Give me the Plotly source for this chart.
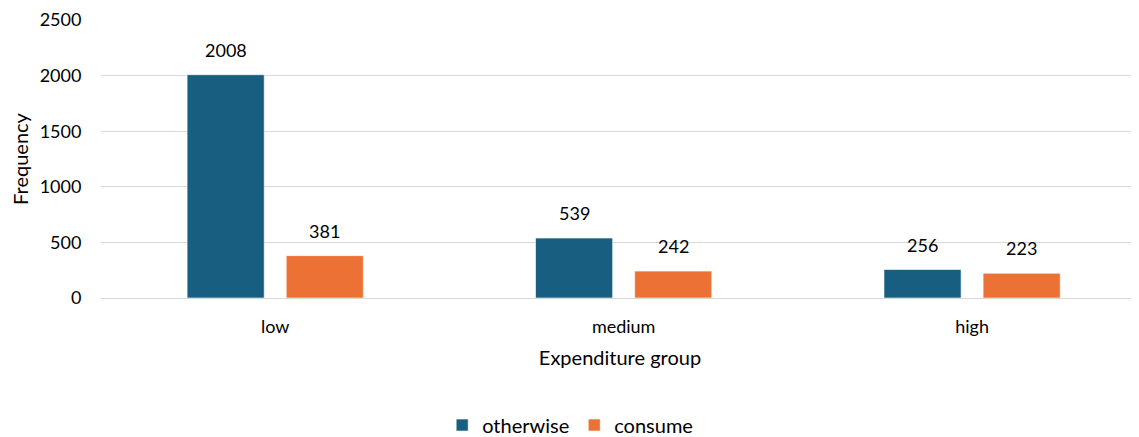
import plotly.graph_objects as go

categories = ["low", "medium", "high"]
otherwise = [2008, 539, 256]
consume = [381, 242, 223]
series_names = ["otherwise", "consume"]
colors = ["#175E80", "#EB7234"]

FONT = "Lato, Open Sans, sans-serif"
FS = 18
FT = 20

fig = go.Figure()
for name, vals, col in zip(series_names, [otherwise, consume], colors):
    fig.add_trace(go.Bar(
        x=categories, y=vals, name=name,
        marker=dict(color=col, line=dict(color="rgba(255,255,255,0.6)", width=1)),
    ))

# data labels
offsets = [-49.5, 49.5]
for vals, off in zip([otherwise, consume], offsets):
    for c, v in zip(categories, vals):
        fig.add_annotation(x=c, y=v, text=str(v), showarrow=False,
                           xshift=off, yshift=12, yanchor="bottom",
                           font=dict(family=FONT, size=FS, color="#000000"))

fig.update_layout(
    width=1131, height=429,
    margin=dict(l=93, r=0, t=12, b=139, autoexpand=False),
    plot_bgcolor="white", paper_bgcolor="white",
    barmode="group", bargap=0.431, bargroupgap=0.222,
    font=dict(family=FONT, size=FS, color="#000000"),
    showlegend=True,
    legend=dict(orientation="h", x=0.452, xanchor="center", y=-0.457, yanchor="middle",
                font=dict(size=FT), traceorder="normal"),
    xaxis=dict(title=dict(text="Expenditure group", font=dict(size=FT), standoff=15),
               range=[-0.5, 2.479],
               showgrid=False, ticks="outside", ticklen=12, tickcolor="rgba(0,0,0,0)",
               showline=False, tickfont=dict(size=FS), automargin=False),
    yaxis=dict(title=dict(text="Frequency", font=dict(size=FT), standoff=12),
               range=[0, 2500], dtick=500, showgrid=True, gridcolor="#D9D9D9",
               gridwidth=1, zeroline=True, zerolinecolor="#D9D9D9", zerolinewidth=1,
               ticks="outside", ticklen=15, tickcolor="rgba(0,0,0,0)",
               tickfont=dict(size=FS), automargin=False),
)

fig.write_html("out.html")
